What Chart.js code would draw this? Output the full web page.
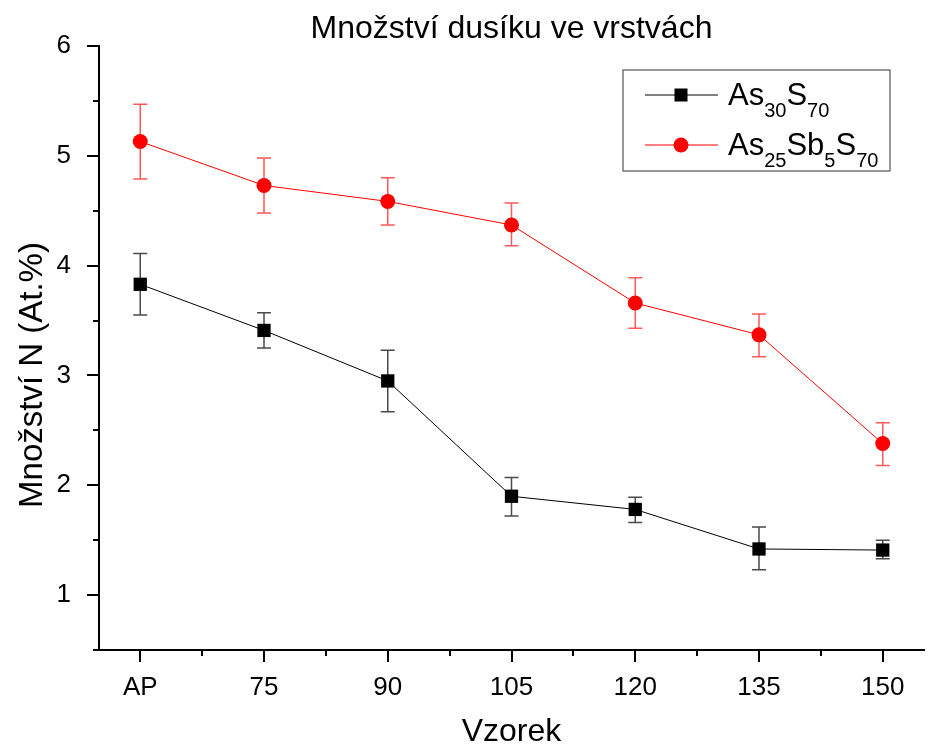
<!DOCTYPE html>
<html>
<head>
<meta charset="utf-8">
<script src="https://cdn.jsdelivr.net/npm/chart.js@4.4.0/dist/chart.umd.min.js"></script>
<style>
  html, body { margin: 0; padding: 0; background: #fff; }
  #wrap { width: 938px; height: 749px; }
</style>
</head>
<body>
<div id="wrap"><canvas id="chart"></canvas></div>
<script>
// samples (annealing temperature) and measured nitrogen content
const samples = ['AP', '75', '90', '105', '120', '135', '150'];
const as30Values = [3.83, 3.41, 2.95, 1.90, 1.78, 1.42, 1.41];
const as30Low    = [3.55, 3.25, 2.67, 1.72, 1.66, 1.23, 1.33];
const as30High   = [4.11, 3.57, 3.23, 2.07, 1.89, 1.62, 1.50];
const as25Values = [5.13, 4.73, 4.585, 4.37, 3.66, 3.37, 2.38];
const as25Low    = [4.79, 4.48, 4.37, 4.18, 3.43, 3.17, 2.18];
const as25High   = [5.47, 4.98, 4.80, 4.57, 3.89, 3.56, 2.57];
const yTicks = [1, 2, 3, 4, 5, 6];

const FONT = 'Liberation Sans, Arial, sans-serif';

function toPoints(values) {
    return values.map((v, i) => ({ x: i, y: v }));
}

// vertical error bars with caps, drawn under the markers
const errorBars = {
    id: 'errorBars',
    beforeDatasetsDraw(chart) {
        const ctx = chart.ctx;
        const xs = chart.scales.x, ys = chart.scales.y;
        const sets = [
            { low: as30Low, high: as30High, color: '#4a4a4a' },
            { low: as25Low, high: as25High, color: '#ff5a5a' }
        ];
        ctx.save();
        ctx.lineWidth = 1.5;
        sets.forEach(s => {
            ctx.strokeStyle = s.color;
            s.low.forEach((lo, i) => {
                const x = xs.getPixelForValue(i);
                const y1 = ys.getPixelForValue(lo);
                const y2 = ys.getPixelForValue(s.high[i]);
                ctx.beginPath();
                ctx.moveTo(x, y1); ctx.lineTo(x, y2);
                ctx.moveTo(x - 7, y1); ctx.lineTo(x + 7, y1);
                ctx.moveTo(x - 7, y2); ctx.lineTo(x + 7, y2);
                ctx.stroke();
            });
        });
        ctx.restore();
    }
};

// title, outward major/minor tick marks, y title and the legend with subscripts
const decorations = {
    id: 'decorations',
    afterDraw(chart) {
        const ctx = chart.ctx;
        const xs = chart.scales.x, ys = chart.scales.y;
        const area = chart.chartArea;
        ctx.save();

        ctx.fillStyle = '#000';
        ctx.font = '32px ' + FONT;
        ctx.textAlign = 'center';
        ctx.textBaseline = 'alphabetic';
        ctx.fillText('Množství dusíku ve vrstvách', (area.left + area.right) / 2, 38);

        ctx.strokeStyle = '#000';
        ctx.lineWidth = 2;
        ctx.beginPath();
        for (let v = 0.5; v <= 6; v += 0.5) {
            const y = Math.round(ys.getPixelForValue(v));
            const len = Number.isInteger(v) ? 12 : 6;
            ctx.moveTo(area.left, y); ctx.lineTo(area.left - len, y);
        }
        for (let v = 0; v <= 6; v += 0.5) {
            const x = Math.round(xs.getPixelForValue(v));
            const len = Number.isInteger(v) ? 12 : 6;
            ctx.moveTo(x, area.bottom); ctx.lineTo(x, area.bottom + len);
        }
        ctx.stroke();

        // y axis title
        ctx.font = '33px ' + FONT;
        ctx.textBaseline = 'middle';
        ctx.translate(33, 375);
        ctx.rotate(-Math.PI / 2);
        ctx.fillText('Množství N (At.%)', 0, 0);
        ctx.setTransform(1, 0, 0, 1, 0, 0);

        // legend
        const box = { x: 623, y: 70, w: 267, h: 101 };
        ctx.lineWidth = 1.2;
        ctx.strokeStyle = '#555';
        ctx.strokeRect(box.x, box.y, box.w, box.h);
        const rows = [
            { y: 95, color: '#000', shape: 'rect',
              parts: [['As', 0], ['30', 1], ['S', 0], ['70', 1]] },
            { y: 145, color: '#ff0000', shape: 'circle',
              parts: [['As', 0], ['25', 1], ['Sb', 0], ['5', 1], ['S', 0], ['70', 1]] }
        ];
        rows.forEach(r => {
            ctx.strokeStyle = r.color;
            ctx.fillStyle = r.color;
            ctx.lineWidth = 1;
            ctx.beginPath();
            ctx.moveTo(645, r.y); ctx.lineTo(718, r.y);
            ctx.stroke();
            if (r.shape === 'rect') {
                ctx.fillRect(681 - 6.5, r.y - 6.5, 13, 13);
            } else {
                ctx.beginPath();
                ctx.arc(681, r.y, 7.5, 0, Math.PI * 2);
                ctx.fill();
            }
            ctx.fillStyle = '#000';
            ctx.textAlign = 'left';
            ctx.textBaseline = 'alphabetic';
            let x = 728;
            const base = r.y + 10;
            r.parts.forEach(([t, sub]) => {
                ctx.font = (sub ? '20px ' : '31px ') + FONT;
                ctx.fillText(t, x, sub ? base + 12 : base);
                x += ctx.measureText(t).width;
            });
        });
        ctx.restore();
    }
};

new Chart(document.getElementById('chart'), {
    type: 'line',
    data: {
        datasets: [{
            label: 'As30S70',
            data: toPoints(as30Values),
            borderColor: '#000',
            backgroundColor: '#000',
            borderWidth: 1,
            pointStyle: 'rect',
            pointRadius: 9.4,
            pointHoverRadius: 9.4,
            pointBorderWidth: 0
        }, {
            label: 'As25Sb5S70',
            data: toPoints(as25Values),
            borderColor: '#ff0000',
            backgroundColor: '#ff0000',
            borderWidth: 1,
            pointStyle: 'circle',
            pointRadius: 7.5,
            pointHoverRadius: 7.5,
            pointBorderWidth: 0
        }]
    },
    options: {
        responsive: true,
        maintainAspectRatio: false,
        animation: false,
        layout: { padding: { top: 46, right: 14, bottom: 0, left: 0 } },
        plugins: {
            legend: { display: false },
            tooltip: { enabled: false },
            title: { display: false }
        },
        scales: {
            x: {
                type: 'linear',
                min: -1 / 3,
                max: 6 + 1 / 3,
                afterFit: s => { s.height = 99; },
                afterBuildTicks: s => { s.ticks = samples.map((_, i) => ({ value: i })); },
                grid: { display: false },
                border: { display: true, color: '#000', width: 2 },
                ticks: {
                    color: '#000',
                    font: { family: FONT, size: 26 },
                    padding: 14,
                    maxRotation: 0,
                    autoSkip: false,
                    callback: v => samples[v]
                },
                title: {
                    display: true,
                    text: 'Vzorek',
                    color: '#000',
                    font: { family: FONT, size: 32, lineHeight: 1 },
                    padding: { top: 0, bottom: 1 }
                }
            },
            y: {
                min: 0.5,
                max: 6,
                afterFit: s => { s.width = 99; },
                afterBuildTicks: s => { s.ticks = yTicks.map(v => ({ value: v })); },
                grid: { display: false },
                border: { display: true, color: '#000', width: 2 },
                ticks: {
                    color: '#000',
                    font: { family: FONT, size: 26 },
                    padding: 20,
                    autoSkip: false
                }
            }
        }
    },
    plugins: [errorBars, decorations]
});
</script>
</body>
</html>
